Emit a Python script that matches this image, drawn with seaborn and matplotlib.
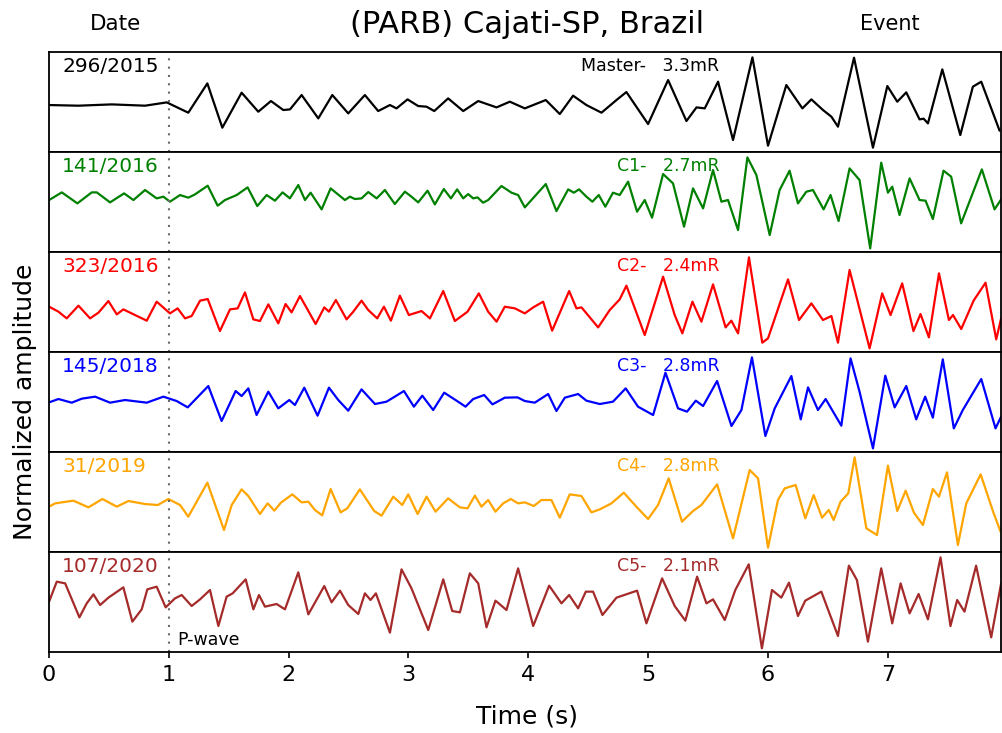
import matplotlib
matplotlib.use("Agg")
import matplotlib.pyplot as plt
import seaborn as sns
import pandas as pd

# ---------------- data ----------------
title = "(PARB) Cajati-SP, Brazil"
dates = ["296/2015", "141/2016", "323/2016", "145/2018", "31/2019", "107/2020"]
events = ["Master-   3.3mR", "C1-   2.7mR", "C2-   2.4mR", "C3-   2.8mR", "C4-   2.8mR", "C5-   2.1mR"]
colors = ["black", "green", "red", "blue", "orange", "brown"]
xticks = [0, 1, 2, 3, 4, 5, 6, 7]
p_wave_time = 1.0

t_master = [0, 0.245, 0.523, 0.801, 0.982, 1.162, 1.321, 1.446, 1.607, 1.746, 1.852, 1.955, 2.011,
            2.108, 2.247, 2.364, 2.497, 2.636, 2.747, 2.845, 2.900, 2.992, 3.081, 3.151, 3.215, 3.331,
            3.457, 3.582, 3.735, 3.846, 3.971, 4.041, 4.146, 4.263, 4.374, 4.485, 4.611, 4.736, 4.819,
            5.0, 5.167, 5.320, 5.404, 5.473, 5.584, 5.709, 5.871, 6.001, 6.154, 6.288, 6.363, 6.460,
            6.530, 6.585, 6.719, 6.877, 6.997, 7.080, 7.155, 7.266, 7.300, 7.336, 7.456, 7.606, 7.711,
            7.781, 7.934]
a_master = [-0.06, -0.073, -0.047, -0.073, -0.007, -0.213, 0.373, -0.513, 0.187, -0.193, 0.02, -0.16, -0.147,
            0.14, -0.327, 0.14, -0.227, 0.14, -0.18, -0.06, -0.127, 0.053, -0.08, -0.093, -0.18, 0.073,
            -0.18, 0.02, -0.107, 0.007, -0.127, -0.06, 0.04, -0.24, 0.127, -0.06, -0.213, 0.04, 0.2,
            -0.44, 0.44, -0.38, -0.107, -0.127, 0.407, -0.76, 0.893, -0.873, 0.34, -0.127, 0.053, -0.16,
            -0.293, -0.493, 0.887, -0.913, 0.32, 0.007, 0.193, -0.347, -0.333, -0.427, 0.653, -0.66, 0.307,
            0.407, -0.573]

t_c1 = [0, 0.106, 0.236, 0.356, 0.398, 0.509, 0.626, 0.704, 0.801, 0.898, 0.954, 1.009, 1.093, 1.162,
        1.218, 1.324, 1.407, 1.468, 1.566, 1.657, 1.738, 1.816, 1.885, 1.949, 2.010, 2.080, 2.136, 2.183,
        2.275, 2.350, 2.469, 2.511, 2.553, 2.608, 2.664, 2.734, 2.803, 2.886, 2.970, 3.025, 3.081, 3.159,
        3.220, 3.295, 3.354, 3.406, 3.457, 3.498, 3.540, 3.576, 3.623, 3.665, 3.776, 3.860, 3.915, 3.971,
        4.146, 4.235, 4.333, 4.380, 4.424, 4.485, 4.535, 4.588, 4.643, 4.707, 4.763, 4.833, 4.908, 4.972,
        5.033, 5.125, 5.208, 5.300, 5.375, 5.459, 5.542, 5.612, 5.667, 5.751, 5.829, 5.904, 6.015, 6.098,
        6.181, 6.251, 6.321, 6.376, 6.465, 6.523, 6.590, 6.682, 6.765, 6.854, 6.946, 7.002, 7.038, 7.099,
        7.183, 7.266, 7.316, 7.377, 7.466, 7.530, 7.613, 7.786, 7.892, 7.947]
a_c1 = [0.04, 0.193, -0.027, 0.193, 0.193, -0.007, 0.173, 0.04, 0.24, 0.073, 0.107, 0.007, 0.14, 0.087,
        0.153, 0.327, -0.073, 0.04, 0.14, 0.293, -0.08, 0.14, 0.027, 0.193, 0.073, 0.34, 0.04, 0.187,
        -0.147, 0.273, 0.04, 0.107, 0.06, 0.073, 0.2, 0.073, 0.24, -0.04, 0.207, 0.107, -0.007, 0.227,
        -0.047, 0.26, 0.073, 0.253, 0.073, 0.16, 0.073, 0.093, -0.013, 0.04, 0.32, 0.187, 0.14, -0.107,
        0.36, -0.18, 0.253, 0.187, 0.253, 0.107, 0.007, 0.14, -0.093, 0.187, 0.14, 0.407, -0.193, 0.04,
        -0.313, 0.56, 0.373, -0.493, 0.273, -0.127, 0.64, 0.007, 0.04, -0.56, 0.893, 0.54, -0.66, 0.24,
        0.627, -0.027, 0.207, 0.24, -0.147, 0.14, -0.38, 0.673, 0.44, -0.927, 0.787, 0.187, 0.307, -0.26,
        0.473, 0.04, 0.027, -0.34, 0.627, 0.507, -0.427, 0.653, -0.147, 0.053]

t_c2 = [0, 0.078, 0.147, 0.245, 0.342, 0.412, 0.495, 0.565, 0.620, 0.717, 0.815, 0.898, 1.009, 1.073,
        1.135, 1.190, 1.260, 1.324, 1.426, 1.510, 1.574, 1.635, 1.705, 1.760, 1.830, 1.913, 1.974, 2.024,
        2.094, 2.225, 2.297, 2.336, 2.394, 2.483, 2.539, 2.608, 2.664, 2.739, 2.795, 2.853, 2.928, 3.003,
        3.109, 3.179, 3.290, 3.387, 3.493, 3.587, 3.665, 3.735, 3.804, 3.888, 3.971, 4.041, 4.124, 4.199,
        4.341, 4.402, 4.444, 4.583, 4.680, 4.763, 4.819, 4.972, 5.125, 5.222, 5.286, 5.370, 5.445, 5.542,
        5.647, 5.695, 5.751, 5.842, 5.953, 6.001, 6.168, 6.260, 6.363, 6.460, 6.530, 6.585, 6.682, 6.849,
        6.954, 7.024, 7.121, 7.215, 7.274, 7.344, 7.428, 7.511, 7.545, 7.614, 7.717, 7.817, 7.906, 7.947]
a_c2 = [-0.093, -0.193, -0.327, -0.073, -0.327, -0.213, 0.02, -0.247, -0.147, -0.26, -0.373, 0.007, -0.227,
        -0.127, -0.327, -0.28, 0.027, 0.06, -0.58, -0.147, -0.127, 0.193, -0.347, -0.38, -0.047, -0.427,
        -0.04, -0.207, 0.12, -0.44, -0.107, -0.193, 0.04, -0.347, -0.193, 0.027, -0.16, -0.327, -0.093,
        -0.373, 0.127, -0.26, -0.18, -0.327, 0.22, -0.38, -0.193, 0.173, -0.193, -0.393, -0.093, -0.127,
        -0.227, -0.107, 0.007, -0.573, 0.22, -0.127, -0.107, -0.507, -0.16, 0.053, 0.327, -0.66, 0.507,
        -0.26, -0.627, 0.007, -0.393, 0.353, -0.507, -0.373, -0.627, 0.893, -0.813, -0.727, 0.453, -0.36,
        -0.027, -0.36, -0.28, -0.813, 0.64, -0.927, 0.173, -0.26, 0.373, -0.58, -0.24, -0.707, 0.573,
        -0.36, -0.26, -0.54, 0.027, 0.387, -0.747, -0.327]

t_c3 = [0, 0.078, 0.189, 0.273, 0.384, 0.509, 0.634, 0.815, 0.954, 1.065, 1.157, 1.329, 1.440, 1.557,
        1.607, 1.663, 1.732, 1.830, 1.913, 2.005, 2.052, 2.130, 2.241, 2.336, 2.414, 2.497, 2.608, 2.720,
        2.817, 2.962, 3.045, 3.115, 3.206, 3.298, 3.401, 3.476, 3.540, 3.632, 3.701, 3.804, 3.910, 3.971,
        4.054, 4.166, 4.235, 4.305, 4.416, 4.485, 4.597, 4.707, 4.813, 4.916, 5.042, 5.145, 5.250, 5.325,
        5.398, 5.459, 5.576, 5.696, 5.779, 5.867, 5.979, 6.057, 6.196, 6.274, 6.335, 6.418, 6.482, 6.613,
        6.690, 6.765, 6.877, 6.980, 7.058, 7.155, 7.238, 7.313, 7.377, 7.460, 7.552, 7.627, 7.781, 7.900,
        7.947]
a_c3 = [-0.007, 0.06, -0.013, 0.067, 0.107, -0.013, 0.04, -0.013, 0.107, 0.02, -0.107, 0.32, -0.38, 0.22,
        0.12, 0.273, -0.26, 0.207, -0.127, 0.04, -0.06, 0.287, -0.273, 0.287, 0.04, -0.173, 0.253, -0.04,
        0.007, 0.22, -0.093, 0.127, -0.16, 0.187, 0.027, -0.093, 0.06, 0.14, -0.047, 0.087, 0.093, 0.02,
        -0.013, 0.16, -0.18, 0.087, 0.16, 0.027, -0.04, 0.007, 0.273, -0.093, -0.26, 0.587, -0.127, -0.193,
        0.027, -0.08, 0.42, -0.48, -0.16, 0.893, -0.68, -0.127, 0.52, -0.347, 0.293, -0.16, 0.06, -0.473,
        0.873, 0.207, -0.927, 0.527, -0.107, 0.32, -0.347, 0.107, -0.313, 0.853, -0.527, -0.16, 0.46,
        -0.527, -0.293]

t_c4 = [0, 0.05, 0.203, 0.328, 0.445, 0.565, 0.662, 0.801, 0.907, 0.996, 1.093, 1.162, 1.321, 1.460,
        1.524, 1.607, 1.663, 1.760, 1.824, 1.880, 1.935, 2.030, 2.108, 2.164, 2.219, 2.280, 2.350, 2.433,
        2.489, 2.594, 2.714, 2.775, 2.873, 2.948, 2.998, 3.076, 3.151, 3.226, 3.331, 3.429, 3.493, 3.554,
        3.609, 3.665, 3.726, 3.790, 3.854, 3.915, 3.971, 4.046, 4.110, 4.193, 4.263, 4.346, 4.444, 4.527,
        4.597, 4.694, 4.797, 4.902, 5.0, 5.083, 5.172, 5.283, 5.375, 5.445, 5.576, 5.709, 5.848, 5.918,
        6.001, 6.084, 6.140, 6.232, 6.312, 6.382, 6.452, 6.508, 6.549, 6.607, 6.671, 6.724, 6.822, 6.911,
        7.002, 7.080, 7.150, 7.219, 7.294, 7.377, 7.428, 7.495, 7.586, 7.656, 7.776, 7.880, 7.942]
a_c4 = [-0.093, -0.027, 0.027, -0.107, 0.06, -0.093, 0.02, -0.04, -0.06, 0.06, -0.06, -0.293, 0.387, -0.56,
        -0.06, 0.253, 0.12, -0.24, -0.027, -0.173, -0.013, 0.153, -0.007, 0.007, -0.16, -0.267, 0.26,
        -0.207, -0.127, 0.253, -0.18, -0.273, 0.107, -0.06, 0.153, -0.24, 0.107, -0.193, 0.073, -0.107,
        -0.127, 0.127, -0.093, 0.04, -0.193, -0.027, 0.06, -0.027, -0.007, -0.08, 0.04, 0.04, -0.313, 0.153,
        0.12, -0.207, -0.147, -0.027, 0.187, -0.093, -0.34, -0.06, 0.473, -0.393, -0.18, -0.06, 0.353,
        -0.727, 0.64, 0.473, -0.913, 0.04, 0.273, 0.34, -0.327, 0.14, -0.313, -0.16, -0.36, 0.007, 0.173,
        0.893, -0.527, -0.66, 0.727, -0.18, 0.227, -0.213, -0.46, 0.26, 0.107, 0.593, -0.86, -0.027, 0.553,
        -0.193, -0.593]

t_c5 = [0, 0.064, 0.134, 0.253, 0.314, 0.370, 0.426, 0.495, 0.620, 0.695, 0.773, 0.820, 0.898, 0.973,
        1.051, 1.107, 1.190, 1.260, 1.343, 1.413, 1.482, 1.532, 1.641, 1.705, 1.752, 1.802, 1.899, 1.969,
        2.080, 2.164, 2.297, 2.358, 2.428, 2.497, 2.581, 2.636, 2.683, 2.728, 2.845, 2.942, 3.025, 3.165,
        3.290, 3.365, 3.429, 3.512, 3.582, 3.651, 3.726, 3.818, 3.915, 4.041, 4.174, 4.277, 4.341, 4.416,
        4.480, 4.541, 4.619, 4.736, 4.908, 4.986, 5.117, 5.222, 5.311, 5.409, 5.487, 5.542, 5.640, 5.728,
        5.840, 5.950, 6.034, 6.112, 6.176, 6.251, 6.312, 6.446, 6.585, 6.676, 6.743, 6.835, 6.946, 7.038,
        7.108, 7.183, 7.258, 7.336, 7.441, 7.524, 7.580, 7.641, 7.738, 7.864, 7.947]
a_c5 = [0.007, 0.407, 0.373, -0.307, -0.027, 0.153, -0.06, 0.087, 0.293, -0.393, -0.147, 0.253, 0.307,
        -0.107, 0.073, 0.14, -0.08, 0.053, 0.24, -0.48, 0.107, 0.173, 0.453, -0.147, 0.14, -0.093, -0.04,
        -0.147, 0.593, -0.247, 0.32, -0.007, 0.227, -0.06, -0.24, 0.173, 0.04, 0.173, -0.613, 0.653, 0.273,
        -0.56, 0.453, -0.18, -0.207, 0.573, 0.373, -0.507, 0.027, -0.16, 0.673, -0.48, 0.327, -0.027, 0.14,
        -0.127, 0.207, 0.207, -0.26, 0.087, 0.227, -0.427, 0.473, -0.08, -0.373, 0.507, -0.027, 0.053,
        -0.36, 0.24, 0.753, -0.927, 0.24, 0.087, 0.387, -0.28, 0.027, 0.207, -0.68, 0.727, 0.44, -0.793,
        0.673, -0.427, 0.373, -0.227, 0.16, -0.347, 0.893, -0.48, 0.04, -0.193, 0.727, -0.707, 0.373]

# ---------------- figure ----------------
sns.set_style("ticks")
plt.rcParams["font.family"] = ["DejaVu Sans"]
plt.rcParams["text.color"] = "black"
plt.rcParams["xtick.color"] = "black"
plt.rcParams["xtick.labelcolor"] = "black"

fig, axes = plt.subplots(6, 1, figsize=(10.02, 7.33), dpi=100, sharex=True)
fig.subplots_adjust(left=0.049, right=0.9995, top=0.929, bottom=0.1105, hspace=0)

traces = [(t_master, a_master), (t_c1, a_c1), (t_c2, a_c2), (t_c3, a_c3), (t_c4, a_c4), (t_c5, a_c5)]

for i, (ax, (tt, aa)) in enumerate(zip(axes, traces)):
    df = pd.DataFrame({"t": tt, "a": aa})
    sns.lineplot(data=df, x="t", y="a", ax=ax, color=colors[i], linewidth=1.6,
                 estimator=None, sort=False)
    ax.axvline(p_wave_time, color="dimgray", linestyle=(0, (1, 3)), linewidth=1.5)
    ax.set_xlim(0, 7.95)
    ax.set_ylim(-1, 1)
    ax.set_yticks([])
    ax.set_ylabel("")
    ax.set_xlabel("")
    for s in ax.spines.values():
        s.set_visible(True)
        s.set_linewidth(1.3)
        s.set_color("black")
    ax.text(0.0136, 0.86, dates[i], transform=ax.transAxes, ha="left", va="center",
            fontsize=14.5, color=colors[i])
    ax.text(0.704, 0.865, events[i], transform=ax.transAxes, ha="right", va="center",
            fontsize=12.5, color=colors[i])
    if i < 5:
        ax.tick_params(axis="x", bottom=False, labelbottom=False)

axes[-1].set_xticks(xticks)
axes[-1].tick_params(axis="x", labelsize=16, length=4, width=1.2, direction="out", pad=5,
                     colors="black")
axes[-1].text(0.135, 0.12, "P-wave", transform=axes[-1].transAxes, ha="left", va="center",
              fontsize=12.5, color="black")

fig.text(0.526, 0.967, title, ha="center", va="center", fontsize=22, color="black")
fig.text(0.115, 0.967, "Date", ha="center", va="center", fontsize=15.5, color="black")
fig.text(0.888, 0.967, "Event", ha="center", va="center", fontsize=15, color="black")
fig.text(0.526, 0.022, "Time (s)", ha="center", va="center", fontsize=18, color="black")
fig.text(0.025, 0.452, "Normalized amplitude", ha="center", va="center", rotation=90,
         fontsize=18, color="black")

fig.savefig("out.png", dpi=100)
